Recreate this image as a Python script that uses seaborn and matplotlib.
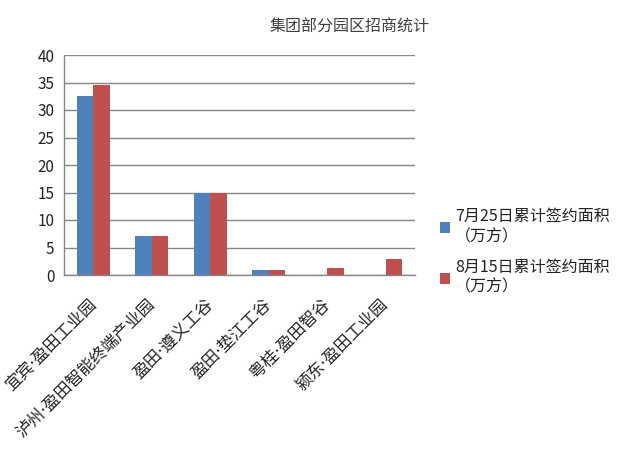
import numpy as np
import pandas as pd
import matplotlib
matplotlib.use('Agg')
import matplotlib.pyplot as plt
import seaborn as sns

# 数据
parks = ['宜宾·盈田工业园', '泸州·盈田智能终端产业园', '盈田·遵义工谷',
         '盈田·垫江工谷', '粤桂·盈田智谷', '颍东·盈田工业园']
jul25 = [32.6, 7.15, 14.9, 1.0, 0, 0]
aug15 = [34.6, 7.15, 14.9, 1.0, 1.2, 3.0]
series = ['7月25日累计签约面积\n（万方）', '8月15日累计签约面积\n（万方）']
yticks = [0, 5, 10, 15, 20, 25, 30, 35, 40]

df = pd.DataFrame({
    'park': parks * 2,
    'area': jul25 + aug15,
    'series': [series[0]] * len(parks) + [series[1]] * len(parks),
})

sns.set_style('white')
plt.rcParams['font.family'] = ['Noto Sans CJK SC', 'DejaVu Sans']

grid_col = '#868686'
fig = plt.figure(figsize=(6.29, 4.51), dpi=100)
ax = fig.add_axes([64/629, 1-275/451, (415-64)/629, (275-55)/451])

sns.barplot(data=df, x='park', y='area', hue='series',
            palette=['#4F81BD', '#C0504D'], width=0.56, gap=0,
            saturation=1, linewidth=0, ax=ax)

ax.set_ylim(0, 40)
ax.set_xlim(-0.5, len(parks) - 0.5)
ax.set_yticks(yticks)
ax.set_axisbelow(True)
ax.yaxis.grid(True, color=grid_col, lw=1)
ax.set_xlabel('')
ax.set_ylabel('')

for s in ['top', 'right']:
    ax.spines[s].set_visible(False)
for s in ['left', 'bottom']:
    ax.spines[s].set_color(grid_col)
    ax.spines[s].set_linewidth(1)

ax.tick_params(axis='y', length=4, color=grid_col, labelsize=11, pad=3, labelcolor='#222222')
ax.set_xticks(range(len(parks)))
# 窄的间隔点用 DejaVu，汉字回落到 Noto
ax.set_xticklabels(parks, rotation=45, ha='right', va='center',
                   rotation_mode='anchor', fontsize=12, color='#222222',
                   family=['DejaVu Sans', 'Noto Sans CJK SC'])
ax.tick_params(axis='x', length=0, pad=19)
ax.set_xticks(np.arange(-0.5, len(parks)), minor=True)
ax.tick_params(axis='x', which='minor', length=4, color=grid_col, direction='out')

handles, labels = ax.get_legend_handles_labels()
ax.get_legend().remove()
fig.legend(handles, labels, loc='upper left', bbox_to_anchor=(426/629, 1-194/451),
           frameon=False, fontsize=11.5, handlelength=0.6, handleheight=0.6,
           handletextpad=0.3, labelspacing=0.9, labelcolor='#222222')

fig.text(350/629, 1-27/451, '集团部分园区招商统计', ha='center', va='center',
         fontsize=11.5, color='#404040')

fig.savefig('out.png', dpi=100)
